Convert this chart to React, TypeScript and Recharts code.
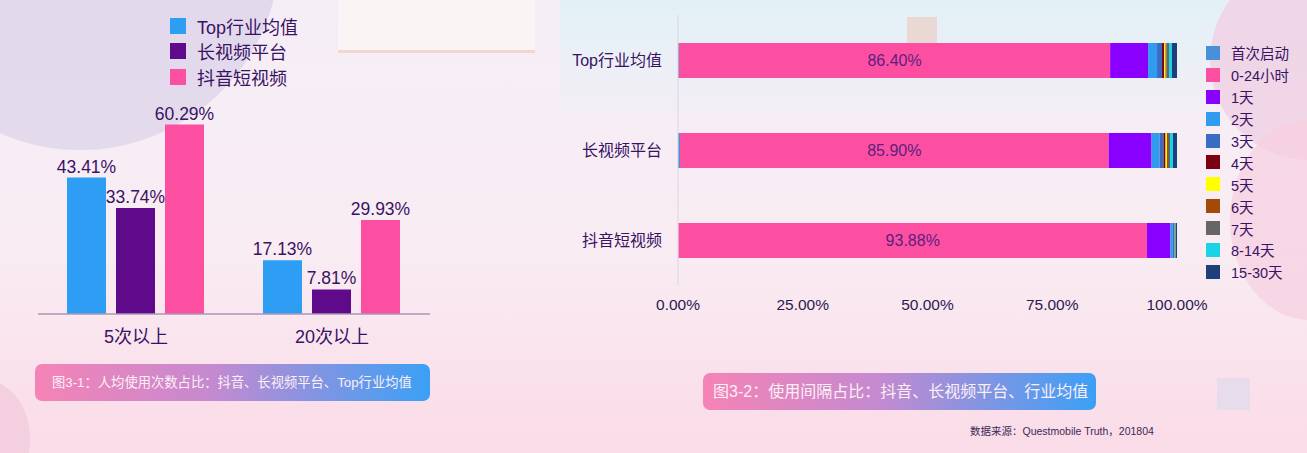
import { BarChart, Bar, XAxis, YAxis, Legend, LabelList } from 'recharts'

// left chart: 人均使用次数占比
const countCategories = ['5次以上', '20次以上']
const topAvgCounts = [43.41, 17.13]
const longVideoCounts = [33.74, 7.81]
const douyinCounts = [60.29, 29.93]
const countSeries = ['Top行业均值', '长视频平台', '抖音短视频']
const countColors = ['#2e9ef5', '#5f0a8a', '#fd4fa2']

// right chart: 使用间隔占比 (%)
const platforms = ['Top行业均值', '长视频平台', '抖音短视频']
const intervalNames = ['首次启动', '0-24小时', '1天', '2天', '3天', '4天', '5天', '6天', '7天', '8-14天', '15-30天']
const topAvgIntervals = [0.2, 86.4, 7.6, 1.8, 1.0, 0.4, 0.3, 0.2, 0.5, 0.6, 1.0]
const longVideoIntervals = [0.4, 85.9, 8.6, 1.6, 0.8, 0.4, 0.3, 0.2, 0.4, 0.6, 0.8]
const douyinIntervals = [0.1, 93.88, 4.7, 0.5, 0.2, 0.05, 0.05, 0.02, 0.1, 0.15, 0.25]
const intervalColors = ['#4a90d9', '#fd4fa2', '#8a00ff', '#2f9cf0', '#3a6cc4', '#7a0012', '#ffff00', '#a44a08', '#666666', '#19d3e6', '#1f3f7a']
const xTicks = [0, 25, 50, 75, 100]

const FONT = '"Liberation Sans", "Noto Sans CJK SC", sans-serif'
const TEXT = '#3a1264'

const countData = countCategories.map((c, i) => ({
  name: c,
  s0: topAvgCounts[i],
  s1: longVideoCounts[i],
  s2: douyinCounts[i],
}))

const intervalRows = [topAvgIntervals, longVideoIntervals, douyinIntervals]
const intervalData = platforms.map((p, i) => {
  const row: Record<string, number | string> = { name: p }
  intervalRows[i].forEach((v, j) => (row['k' + j] = v))
  return row
})

const pct = (v: any) => Number(v).toFixed(2) + '%'

function LegendList({ names, colors, size, gap, fontSize, box }: any) {
  return (
    <div style={{ fontFamily: FONT }}>
      {names.map((n: string, i: number) => (
        <div key={n} style={{ display: 'flex', alignItems: 'center', height: gap, fontSize, color: TEXT, whiteSpace: 'nowrap' }}>
          <span style={{ width: box, height: box, background: colors[i], display: 'inline-block', marginRight: size, flexShrink: 0 }} />
          {n}
        </div>
      ))}
    </div>
  )
}

export default function App() {
  return (
    <div style={{ position: 'fixed', left: 0, top: 0, width: 1307, height: 453, overflow: 'hidden', fontFamily: FONT,
      background: 'linear-gradient(180deg, #f5eef6 0%, #f9ecf3 55%, #fadbe8 100%)' }}>
      {/* background decoration */}
      <div style={{ position: 'absolute', left: -120, top: -250, width: 400, height: 400, borderRadius: '50%', background: '#ddd5ea', opacity: 0.8 }} />
      <div style={{ position: 'absolute', left: 338, top: 0, width: 197, height: 50, background: '#fbf4f4', borderBottom: '3px solid #f6d6cc' }} />
      <div style={{ position: 'absolute', left: 560, top: 0, width: 747, height: 130, background: 'linear-gradient(180deg, #e2f1f7 0%, rgba(240,240,246,0) 100%)' }} />
      <div style={{ position: 'absolute', left: 1210, top: -40, width: 200, height: 200, borderRadius: '50%', background: '#efd3e6', opacity: 0.9 }} />
      <div style={{ position: 'absolute', left: 1230, top: 120, width: 160, height: 200, borderRadius: '50%', background: '#f6cfe0', opacity: 0.7 }} />
      <div style={{ position: 'absolute', left: 907, top: 17, width: 30, height: 28, background: '#ead8d4' }} />
      <div style={{ position: 'absolute', left: 1217, top: 378, width: 33, height: 32, background: '#e6dcec' }} />
      <div style={{ position: 'absolute', left: -60, top: 380, width: 90, height: 120, borderRadius: '50%', background: '#f3cfe0' }} />

      {/* left chart */}
      <div style={{ position: 'absolute', left: 0, top: 0 }}>
        <BarChart width={440} height={350} data={countData} margin={{ top: 94, right: 10, bottom: 0, left: 38 }}
          barCategoryGap={29} barGap={10}>
          <XAxis dataKey="name" height={36} tickLine={false} axisLine={{ stroke: '#a896b4', strokeWidth: 1.5 }}
            tickMargin={10} tick={{ fill: TEXT, fontSize: 18 }} />
          <YAxis hide domain={[0, 70]} />
          <Legend layout="vertical" align="center" verticalAlign="middle"
            wrapperStyle={{ left: 170, top: 13, width: 200 }}
            content={() => <LegendList names={countSeries} colors={countColors} size={11} gap={25.5} fontSize={18} box={16} />} />
          {['s0', 's1', 's2'].map((k, i) => (
            <Bar key={k} dataKey={k} name={countSeries[i]} fill={countColors[i]} isAnimationActive={false}>
              <LabelList dataKey={k} position="top" formatter={pct} fill={TEXT} fontSize={17.5} />
            </Bar>
          ))}
        </BarChart>
      </div>
      <div style={{ position: 'absolute', left: 35, top: 364, width: 395, height: 37, borderRadius: 7,
        background: 'linear-gradient(90deg, #f583b6 0%, #c48ad0 45%, #3aa0f6 100%)', color: '#fdeef6',
        fontSize: 13.3, lineHeight: '37px', paddingLeft: 17, boxSizing: 'border-box', whiteSpace: 'nowrap' }}>
        图3-1：人均使用次数占比：抖音、长视频平台、Top行业均值
      </div>

      {/* right chart */}
      <div style={{ position: 'absolute', left: 540, top: 0 }}>
        <BarChart width={767} height={320} data={intervalData} layout="vertical" barSize={35}
          margin={{ top: 15, right: 130, bottom: 0, left: 18 }}>
          <XAxis type="number" domain={[0, 100]} ticks={xTicks} tickFormatter={pct} height={35}
            axisLine={false} tickLine={false} tickMargin={8} tick={{ fill: '#2c1a4f', fontSize: 15.5 }} />
          <YAxis type="category" dataKey="name" width={120} tickLine={false}
            axisLine={{ stroke: '#ddd3e0' }} tickMargin={10} tick={{ fill: TEXT, fontSize: 16 }} />
          <Legend layout="vertical" align="center" verticalAlign="middle"
            wrapperStyle={{ left: 666, top: 42, width: 100 }}
            content={() => <LegendList names={intervalNames} colors={intervalColors} size={11} gap={21.9} fontSize={14.5} box={14} />} />
          {intervalNames.map((n, j) => (
            <Bar key={n} dataKey={'k' + j} name={n} stackId="a" fill={intervalColors[j]} isAnimationActive={false}>
              {j === 1 && <LabelList dataKey="k1" position="center" formatter={pct} fill="#5b1f7f" fontSize={16} />}
            </Bar>
          ))}
        </BarChart>
      </div>
      <div style={{ position: 'absolute', left: 703, top: 373, width: 393, height: 37, borderRadius: 7,
        background: 'linear-gradient(90deg, #f583b6 0%, #c48ad0 45%, #3aa0f6 100%)', color: '#fdeef6',
        fontSize: 16, lineHeight: '37px', paddingLeft: 10, boxSizing: 'border-box', whiteSpace: 'nowrap' }}>
        图3-2：使用间隔占比：抖音、长视频平台、行业均值
      </div>
      <div style={{ position: 'absolute', left: 970, top: 423, fontSize: 10.5, color: '#3b2a55', whiteSpace: 'nowrap' }}>
        数据来源：Questmobile Truth，201804
      </div>
    </div>
  )
}
